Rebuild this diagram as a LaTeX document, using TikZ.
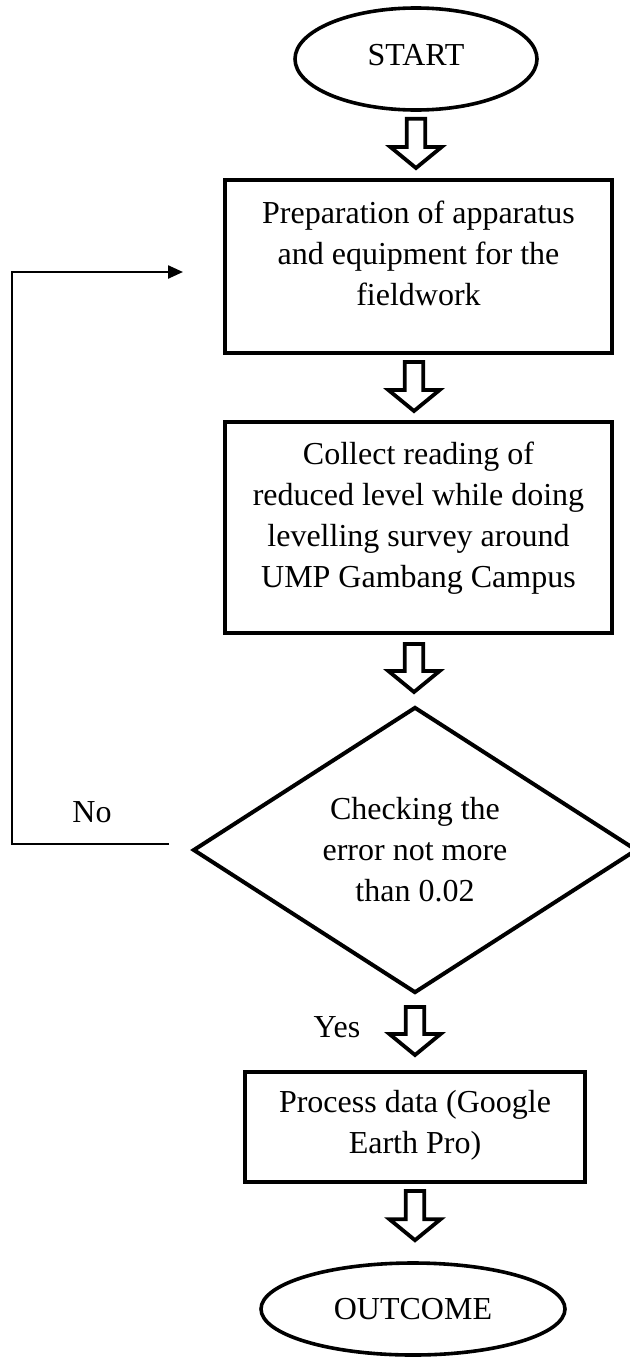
\documentclass[tikz,border=0pt]{standalone}
\usepackage{fontspec}
\setmainfont{Liberation Serif}
\usetikzlibrary{shapes.geometric,arrows.meta,calc}
\tikzset{
  flowfont/.style={font=\fontsize{16}{20.5}\selectfont},
  flowbox/.style={draw,line width=2pt,rectangle,inner sep=0pt},
  flowtext/.style={flowfont,align=center,inner sep=0pt},
  terminal/.style={draw,line width=1.8pt,ellipse,inner sep=0pt,flowfont},
  decision/.style={draw,line width=2pt,diamond,aspect=1.55,minimum width=222pt,minimum height=143pt,inner sep=0pt,align=center,flowfont},
  hollowarrow/.style={draw,line width=1.9pt,fill=white,line join=miter},
  backline/.style={line width=1.2pt,-{Triangle[length=7.5pt,width=6.5pt]}},
}
% hollow block arrow pointing down, from #1 to #2
\newcommand{\blockdown}[2]{%
  \draw[hollowarrow] let \p1=#1, \p2=#2 in
    (\x1-4.6pt,\y1) -- (\x1-4.6pt,\y2+10.5pt) -- (\x1-12.8pt,\y2+10.5pt) -- (\x1,\y2)
    -- (\x1+12.8pt,\y2+10.5pt) -- (\x1+4.6pt,\y2+10.5pt) -- (\x1+4.6pt,\y1) -- cycle;}
\begin{document}
\begin{tikzpicture}[x=0.5pt,y=-0.5pt]
\useasboundingbox (0,0) rectangle (630,1360);

\node[terminal,minimum width=121pt,minimum height=51pt] (start) at (416,59) {\raisebox{4.5pt}{START}};

\node[flowbox,minimum width=193.5pt,minimum height=86.5pt] (prep) at (418.5,266.5) {};
\node[flowtext] (preptext) at (418.5,253) {Preparation of apparatus\\and equipment for the\\fieldwork};

\node[flowbox,minimum width=193.5pt,minimum height=105.5pt] (collect) at (418.5,527.5) {};
\node[flowtext] (collecttext) at (418.5,518.5) {Collect reading of\\reduced level while doing\\levelling survey around\\UMP Gambang Campus};

\node[decision] (check) at (415,850) {Checking the\\error not more\\than 0.02};

\node[flowbox,minimum width=170pt,minimum height=55pt] (process) at (415,1127) {};
\node[flowtext] (processtext) at (415,1125) {Process data (Google\\Earth Pro)};

\node[terminal,minimum width=152pt,minimum height=46pt] (outcome) at (413,1309) {OUTCOME};

\node[flowfont] (nolabel) at (92,812) {No};
\node[flowfont] (yeslabel) at (337,1027) {Yes};

% block arrows
\blockdown{($(start.south)+(0,-3.5pt)$)}{($(prep.north)+(0,5pt)$)}
\blockdown{($(prep.south)+(-2.25pt,-3.5pt)$)}{($(collect.north)+(0,4.5pt)$)}
\blockdown{($(collect.south)+(-2.25pt,-4.5pt)$)}{($(check.north)+(0,6.5pt)$)}
\blockdown{($(check.south)+(0,-6pt)$)}{($(process.north)+(0,7.5pt)$)}
\blockdown{($(process.south)+(0,-3.5pt)$)}{($(outcome.north)+(0,10.5pt)$)}

% No loop back
\coordinate (leftx) at (12,0);
\coordinate (backout) at ($(check.west)+(-11pt,3pt)$);
\coordinate (backin) at ($(prep.west)+(-20pt,-2.75pt)$);
\draw[backline] (backout) -- (backout -| leftx) |- (backin);
\end{tikzpicture}
\end{document}
